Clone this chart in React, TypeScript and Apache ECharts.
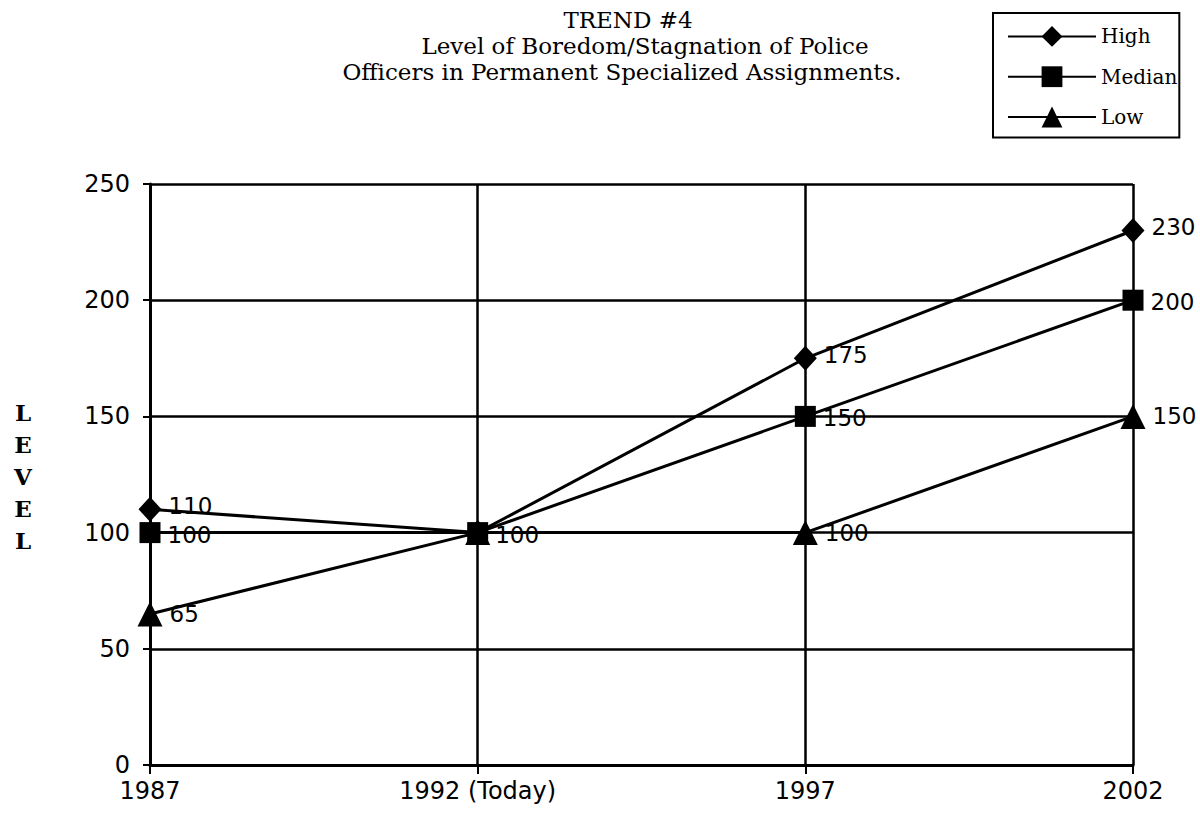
import React, { useEffect, useRef } from "react";
import * as echarts from "echarts";

const categories = ["1987", "1992 (Today)", "1997", "2002"];
const highValues = [110, 100, 175, 230];
const medianValues = [100, 100, 150, 200];
const lowValues = [65, 100, 100, 150];
const highLabelShown = [true, false, true, true];
const medianLabelShown = [true, true, true, true];
const lowLabelShown = [true, false, true, true];
const yTicks = { min: 0, max: 250, interval: 50 };
const titleLines = [
  "TREND #4",
  "Level of Boredom/Stagnation of Police",
  "Officers in Permanent Specialized Assignments.",
];
const legendNames = ["High", "Median", "Low"];
const axisName = "L\nE\nV\nE\nL";

const SANS = "'DejaVu Sans', sans-serif";
const SERIF = "'DejaVu Serif', 'Liberation Serif', serif";

function mkData(vals: number[], shown: boolean[]) {
  return vals.map((v, i) => ({ value: v, label: { show: shown[i] } }));
}

export default function App() {
  const ref = useRef<HTMLDivElement>(null);
  useEffect(() => {
    if (!ref.current) return;
    const chart = echarts.init(ref.current, undefined, { renderer: "svg" });
    const labelCfg = {
      show: true,
      position: "right" as const,
      distance: 7,
      color: "#000",
      fontFamily: SANS,
      fontSize: 23,
    };
    const lineCommon = {
      type: "line" as const,
      color: "#000",
      lineStyle: { color: "#000", width: 3 },
      itemStyle: { color: "#000" },
      emphasis: { disabled: true },
    };
    chart.setOption({
      animation: false,
      backgroundColor: "#fff",
      title: [
        { text: titleLines[0], left: 628, top: 8 },
        { text: titleLines[1], left: 645, top: 34 },
        { text: titleLines[2], left: 622, top: 60 },
      ].map((t) => ({
        ...t,
        textAlign: "center",
        padding: 0,
        textStyle: { fontFamily: SERIF, fontSize: 23, fontWeight: "normal", color: "#000" },
      })),
      legend: {
        orient: "vertical",
        left: 993,
        top: 13,
        padding: [13, 2, 10, 14],
        itemWidth: 88,
        itemHeight: 26,
        itemGap: 19.5,
        borderColor: "#000",
        borderWidth: 2,
        textStyle: { fontFamily: SERIF, fontSize: 20, color: "#000" },
        data: legendNames,
      },
      grid: { left: 150, right: 67, top: 184, bottom: 48 },
      xAxis: {
        type: "category",
        data: categories,
        boundaryGap: false,
        axisLine: { lineStyle: { color: "#000", width: 3 } },
        axisTick: { show: true, length: 9, lineStyle: { color: "#000", width: 2 } },
        axisLabel: { color: "#000", fontFamily: SANS, fontSize: 24, margin: 14 },
        splitLine: { show: true, lineStyle: { color: "#000", width: 2.5 } },
      },
      yAxis: {
        type: "value",
        min: yTicks.min,
        max: yTicks.max,
        interval: yTicks.interval,
        axisLine: { show: true, lineStyle: { color: "#000", width: 3 } },
        axisTick: { show: true, length: 7, lineStyle: { color: "#000", width: 2 } },
        axisLabel: { color: "#000", fontFamily: SANS, fontSize: 24, margin: 20 },
        splitLine: { show: true, lineStyle: { color: "#000", width: 2.5 } },
      },
      graphic: [
        {
          type: "text",
          x: 23,
          y: 396,
          style: {
            text: axisName,
            fontFamily: SERIF,
            fontWeight: "bold",
            fontSize: 23,
            lineHeight: 32,
            align: "center",
            fill: "#000",
          },
        },
      ],
      series: [
        {
          ...lineCommon,
          name: "Low",
          symbol: "triangle",
          symbolSize: 25,
          label: labelCfg,
          data: mkData(lowValues, lowLabelShown),
          z: 2,
        },
        {
          ...lineCommon,
          name: "High",
          symbol: "diamond",
          symbolSize: [23, 25],
          label: { ...labelCfg, offset: [0, -3] },
          data: mkData(highValues, highLabelShown),
          z: 3,
        },
        {
          ...lineCommon,
          name: "Median",
          symbol: "rect",
          symbolSize: 21,
          label: { ...labelCfg, offset: [0, 2] },
          data: mkData(medianValues, medianLabelShown),
          z: 4,
        },
      ],
    });
    return () => chart.dispose();
  }, []);
  return (
    <div
      ref={ref}
      style={{ position: "absolute", left: 0, top: 0, width: 1200, height: 813 }}
    />
  );
}
